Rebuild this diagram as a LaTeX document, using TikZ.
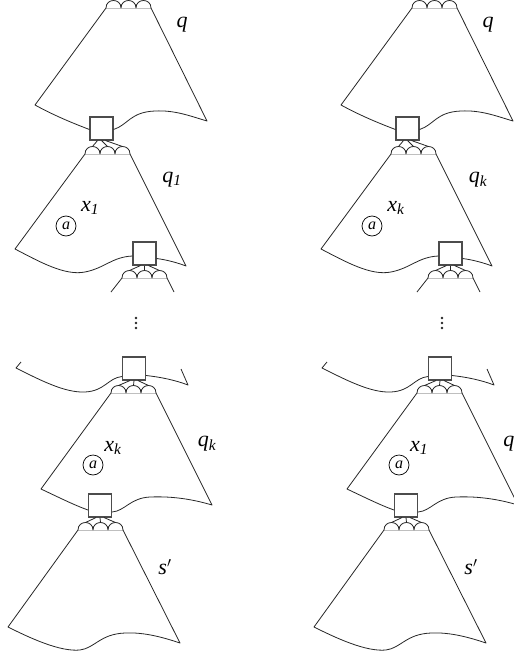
\documentclass[tikz,border=0pt]{standalone}
\usepackage{fontspec}
\setmainfont{Liberation Serif}
\usetikzlibrary{calc}
\tikzset{
  outl/.style={line width=0.8pt, black!85, line join=round},
  base/.style={line width=0.8pt, black!25},
  boxsty/.style={draw=black!70, line width=1.1pt, minimum size=23pt, inner sep=0pt},
  leg/.style={line width=0.8pt, black!85},
  lab/.style={font=\fontsize{22}{22}\selectfont\itshape, inner sep=0pt},
  atom/.style={draw, circle, minimum size=20pt, inner sep=0pt, line width=0.7pt, font=\fontsize{16}{16}\selectfont\itshape},
  dotsty/.style={circle, fill=black!85, minimum size=2.8pt, inner sep=0pt},
}
\newcommand\mybumps[3]{%
  \draw[base] (#1,#2) -- (#1+45,#2);
  \draw[outl] (#1,#2) .. controls (#1,#2-10) and (#1+15,#2-10) .. (#1+15,#2)
     .. controls (#1+15,#2-10) and (#1+30,#2-10) .. (#1+30,#2)
     .. controls (#1+30,#2-10) and (#1+45,#2-10) .. (#1+45,#2);
  \coordinate (#3a) at (#1+7.5,#2-7.5);
  \coordinate (#3b) at (#1+22.5,#2-7.5);
  \coordinate (#3c) at (#1+37.5,#2-7.5);
}
\newcommand\mylegs[2]{%
  \draw[leg] ([xshift=-4pt]#1.south) -- (#2a);
  \draw[leg] (#1.south) -- (#2b);
  \draw[leg] ([xshift=4pt]#1.south) -- (#2c);
}
\newcommand\mycolumn[6]{%
\begin{scope}[xshift=#1pt]
  \node[boxsty] (#2boxA) at (101.5,128.5) {};
  \node[boxsty] (#2boxB) at (144.5,253.5) {};
  \node[boxsty] (#2boxD) at (134,368.5) {};
  \node[boxsty] (#2boxE) at (100,505.5) {};
  % component A
  \mybumps{106}{8}{#2A}
  \draw[outl] ([yshift=-1pt]#2boxA.west) .. controls (75,124) and (55,116) .. (35,105) -- (106,8);
  \draw[outl] (151,8) -- (207,121) .. controls (190,116) and (175,110) .. (155,111)
     .. controls (130,112) and (128,125) .. ([yshift=-1pt]#2boxA.east);
  % component B
  \mybumps{85}{154}{#2B}
  \mylegs{#2boxA}{#2B}
  \draw[outl] (85,154) -- (15,249) .. controls (40,262) and (65,276) .. (85,272)
     .. controls (105,268) and (112,257) .. ([yshift=-2.5pt]#2boxB.west);
  \draw[outl] (130,154) -- (186,266) .. controls (178,263) and (168,260) .. ([yshift=-5pt]#2boxB.east);
  % component C (partial)
  \mybumps{122}{278}{#2C}
  \mylegs{#2boxB}{#2C}
  \draw[outl] (122,278) -- (111,292);
  \draw[outl] (167,278) -- (174,292);
  % dots
  \node[dotsty] (#2dotA) at (136,318) {};
  \node[dotsty] (#2dotB) at (136,323) {};
  \node[dotsty] (#2dotC) at (136,328) {};
  % component D
  \draw[outl] (21,362) -- (16,368) .. controls (40,380) and (65,393) .. (85,392)
     .. controls (105,391) and (108,378) .. ([yshift=-8pt]#2boxD.west);
  \draw[outl] ([yshift=-7pt]#2boxD.east) .. controls (160,377) and (175,380) .. (188,385) -- (181,369);
  \mybumps{111}{393}{#2D}
  \mylegs{#2boxD}{#2D}
  \draw[outl] (111,393) -- (41,489) .. controls (58,497) and (74,505) .. ([yshift=-4.5pt]#2boxE.west);
  \draw[outl] (156,393) -- (212,505) .. controls (195,500) and (175,496) .. (150,497)
     .. controls (130,498) and (125,511) .. ([yshift=-6.5pt]#2boxE.east);
  % component F
  \mybumps{78}{530}{#2F}
  \mylegs{#2boxE}{#2F}
  \draw[outl] (78,530) -- (8,627) .. controls (30,638) and (60,652) .. (80,650)
     .. controls (95,648) and (100,634) .. (125,633)
     .. controls (145,632) and (165,638) .. (180,643) -- (123,530);
  % labels
  \node[lab] (#2labA) at (182,25) {q};
  \node[lab] (#2labB) at (172,180) {#3};
  \node[lab] (#2labxB) at (90,208) {#4};
  \node[atom] (#2atomB) at (66,226) {a};
  \node[lab] (#2labD) at (207,444) {#5};
  \node[lab] (#2labxD) at (113,448) {#6};
  \node[atom] (#2atomD) at (93,465) {a};
  \node[lab] (#2labF) at (165,567) {s$'$};
\end{scope}
}
\begin{document}
\begin{tikzpicture}[x=1pt,y=-1pt]
  \useasboundingbox (0,0) rectangle (514,656);
  \mycolumn{0}{L}{q\textsubscript{1}}{x\textsubscript{1}}{q\textsubscript{k}}{x\textsubscript{k}}
  \mycolumn{306}{R}{q\textsubscript{k}}{x\textsubscript{k}}{q\textsubscript{1}}{x\textsubscript{1}}
\end{tikzpicture}
\end{document}
